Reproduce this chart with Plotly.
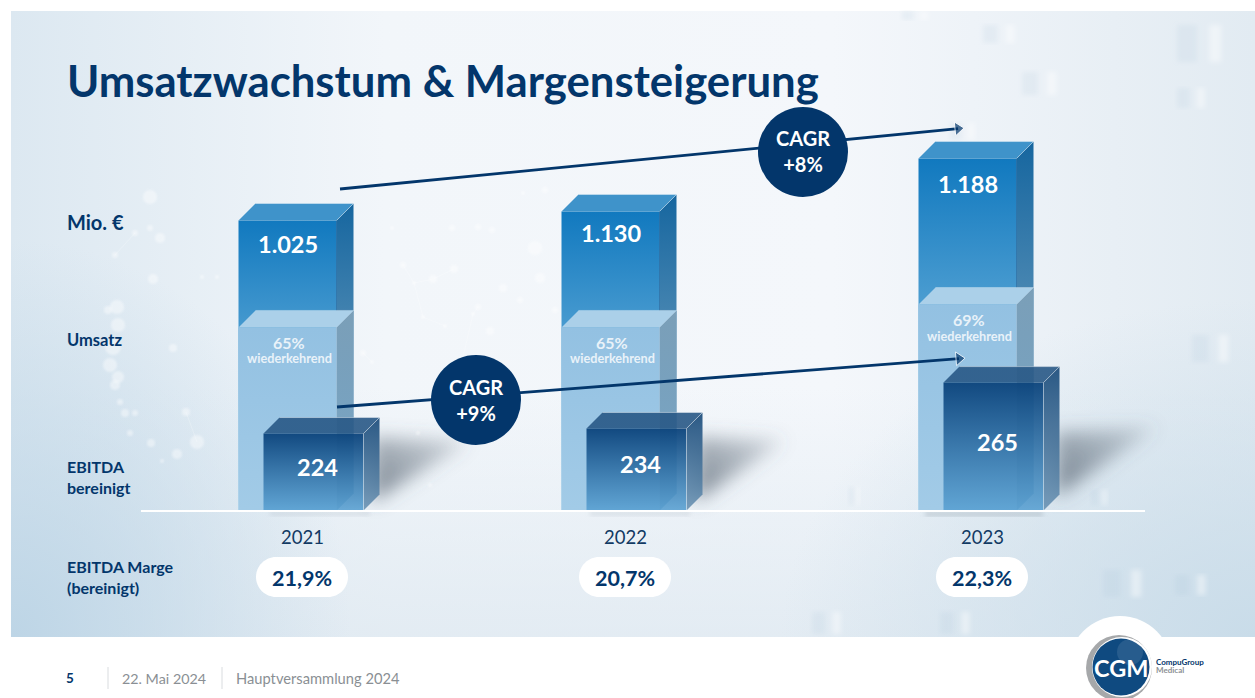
import base64
import plotly.graph_objects as go

# ---------- data ----------
years = ["2021", "2022", "2023"]
umsatz_labels = ["1.025", "1.130", "1.188"]
umsatz_drawn = [1025, 1057, 1244]
wiederkehrend_pct = ["65%", "65%", "69%"]
wiederkehrend_drawn = [647, 647, 728]
ebitda_labels = ["224", "234", "265"]
ebitda_drawn = [272, 290, 452]
marge_labels = ["21,9%", "20,7%", "22,3%"]
cagr_labels = ["CAGR<br>+8%", "CAGR<br>+9%"]

# ---------- page layout ----------
W, H = 1255, 698
BASE = 510.5
K = 1025 / 290.0                       # value units per pixel
X_POS = [302, 625, 982]
REV_OFF, EB_OFF = -14.5, 11.5
REV_W, EB_W = 98, 100
DEPTH = 17
EB_DEPTH = 16
NAVY = "#03366b"
FONT = "Lato"


def yv(px):
    return (BASE - px) * K


def xp(px):
    return px / W


def yp(px):
    return 1 - px / H


# ---------- background picture (no text in it) ----------
DOTS = [(150, 197, 7), (135, 233, 3), (150, 228, 3), (160, 238, 5), (115, 255, 3), (153, 279, 5), (202, 277, 2),
        (217, 277, 2), (117, 307, 7), (108, 310, 4), (118, 325, 7), (113, 347, 8), (110, 365, 7), (118, 377, 6),
        (115, 385, 5), (120, 402, 3), (125, 413, 4), (135, 413, 3), (130, 433, 3), (173, 348, 4), (186, 412, 4),
        (197, 442, 7), (151, 443, 4), (177, 454, 5), (162, 461, 2), (392, 228, 2), (452, 228, 3), (478, 227, 3),
        (492, 230, 3), (535, 248, 7), (403, 265, 3), (414, 283, 2), (433, 279, 4), (454, 269, 4), (503, 288, 4),
        (540, 278, 5), (423, 317, 2), (473, 314, 2), (478, 307, 3), (490, 331, 4), (363, 353, 3), (372, 362, 2),
        (445, 326, 2), (418, 433, 2), (430, 485, 2), (523, 193, 2), (545, 190, 3), (520, 300, 3), (555, 310, 3)]
LINKS = [(403, 265, 414, 283), (414, 283, 423, 317), (423, 317, 445, 326), (478, 307, 473, 314), (473, 314, 460, 370),
         (363, 353, 372, 362), (414, 283, 433, 279), (433, 279, 454, 269), (186, 412, 197, 442), (135, 233, 115, 255)]
GHOSTS = [(1177, 88, 28, 20), (1192, 335, 37, 27), (1177, 25, 45, 37), (983, 25, 32, 18), (1022, 72, 35, 23),
          (950, 123, 25, 17), (902, 11, 26, 9), (1103, 570, 39, 27), (1175, 575, 31, 20), (812, 612, 29, 22),
          (940, 612, 30, 22), (849, 487, 11, 18), (1091, 490, 16, 15)]


def deco():
    out = []
    for x0, y0, x1, y1 in LINKS:
        out.append(f'<line x1="{x0}" y1="{y0}" x2="{x1}" y2="{y1}" stroke="#fff" stroke-width="1" opacity=".22"/>')
    for x, y, r in DOTS:
        out.append(f'<circle cx="{x}" cy="{y}" r="{r}" fill="#fff" opacity=".42" filter="url(#b1)"/>')
    for x, y, w, h in GHOSTS:
        out.append(f'<g filter="url(#b2)"><rect x="{x}" y="{y}" width="{w*.45}" height="{h}" fill="#9dbcd3" opacity=".13"/>'
                   f'<rect x="{x+w*.72}" y="{y}" width="{w*.26}" height="{h}" fill="#fff" opacity=".42"/></g>')
    return "".join(out)


def shadow(a, b, c, d):
    return f'<polygon points="{a},{b} {c},{d} {a},{b+65}" fill="url(#s)"/>'


svg = f'''<svg xmlns="http://www.w3.org/2000/svg" width="{W}" height="{H}" viewBox="0 0 {W} {H}">
<defs>
<linearGradient id="g" x1="0" y1="0" x2="1" y2="0">
<stop offset="0" stop-color="#dce8f1"/><stop offset=".3" stop-color="#f2f6fa"/><stop offset=".66" stop-color="#f4f7fb"/><stop offset="1" stop-color="#e2ebf2"/>
</linearGradient>
<linearGradient id="v" x1="0" y1="0" x2="0" y2="1"><stop offset=".6" stop-color="#dfe9f1" stop-opacity="0"/><stop offset="1" stop-color="#dfe9f1" stop-opacity=".8"/></linearGradient>
<radialGradient id="l" cx="0" cy="1" r="1"><stop offset="0" stop-color="#bdd5e6"/><stop offset="1" stop-color="#bdd5e6" stop-opacity="0"/></radialGradient>
<radialGradient id="r" cx="1" cy="1" r="1"><stop offset="0" stop-color="#c9dce9"/><stop offset="1" stop-color="#c9dce9" stop-opacity="0"/></radialGradient>
<filter id="b1"><feGaussianBlur stdDeviation="1.1"/></filter>
<filter id="b2"><feGaussianBlur stdDeviation="2.8"/></filter>
<filter id="b9" x="-50%" y="-50%" width="200%" height="200%"><feGaussianBlur stdDeviation="9"/></filter>
<linearGradient id="s" x1="0" y1="1" x2="1" y2="0"><stop offset=".15" stop-color="#556270" stop-opacity=".68"/><stop offset="1" stop-color="#556270" stop-opacity=".16"/></linearGradient>
</defs>
<rect width="{W}" height="{H}" fill="#fff"/>
<rect x="11" y="11" width="{W-11}" height="626" fill="url(#g)"/>
<rect x="11" y="11" width="{W-11}" height="626" fill="url(#v)"/>
<rect x="11" y="240" width="340" height="397" fill="url(#l)"/>
<rect x="780" y="300" width="475" height="337" fill="url(#r)"/>
<g filter="url(#b9)">
{shadow(372, 437, 470, 441)}
{shadow(695, 437, 785, 440)}
{shadow(1056, 432, 1157, 427)}
</g>
<g filter="url(#b2)">
<rect x="925" y="512" width="118" height="4" fill="#8b98a5" opacity=".45"/>
<rect x="590" y="512" width="100" height="3" fill="#8b98a5" opacity=".3"/>
<rect x="270" y="512" width="100" height="3" fill="#8b98a5" opacity=".3"/>
</g>
{deco()}
</svg>'''
bg = "data:image/svg+xml;base64," + base64.b64encode(svg.encode()).decode()

fig = go.Figure()


def face(xs, ys, c0, c1):
    fig.add_trace(go.Scatter(
        x=xs, y=ys, mode="lines", fill="toself", line=dict(width=0),
        fillgradient=dict(type="vertical", colorscale=[[0, c0], [1, c1]]),
        hoverinfo="skip", showlegend=False))


def box(cx, w, v, d, front, side, top, edge, rim):
    x0, x1 = cx - w / 2, cx + w / 2
    dv = d * K
    face([x1, x1 + d, x1 + d, x1, x1], [0, dv, v + dv, v, 0], side[1], side[0])
    face([x0, x1, x1, x0, x0], [0, 0, v, v, 0], front[1], front[0])
    face([x0, x1, x1 + d, x0 + d, x0], [v, v, v + dv, v + dv, v], top, top)
    fig.add_trace(go.Scatter(x=[x1, x1], y=[0, v], mode="lines", line=dict(width=1, color=edge),
                             hoverinfo="skip", showlegend=False))
    fig.add_trace(go.Scatter(x=[x1, x1 + d, x0 + d], y=[v, v + dv, v + dv], mode="lines",
                             line=dict(width=1, color=rim), hoverinfo="skip", showlegend=False))


for i, c in enumerate(X_POS):
    box(c + REV_OFF, REV_W, umsatz_drawn[i], DEPTH,
        ("#1179bf", "#9fd0ea"), ("#16669f", "#8fb4cc"), "#3f93ca", "rgba(16,90,150,.6)", "rgba(255,255,255,.35)")
for i, c in enumerate(X_POS):
    box(c + REV_OFF, REV_W, wiederkehrend_drawn[i], DEPTH,
        ("#93c1e2", "#a2cbe7"), ("#7b9fb8", "rgba(123,168,200,.75)"), "#abd0e9", "rgba(255,255,255,.25)",
        "rgba(255,255,255,.25)")
for i, c in enumerate(X_POS):
    box(c + EB_OFF, EB_W, ebitda_drawn[i], EB_DEPTH,
        ("rgba(12,68,124,.96)", "rgba(88,160,210,.88)"), ("rgba(32,80,126,.95)", "rgba(100,142,176,.85)"),
        "rgba(40,88,134,.9)", "rgba(255,255,255,.4)", "rgba(255,255,255,.4)")

# trend arrows, drawn on the same axes
for (x0, y0, x1, y1) in [(340, 189, 964, 128), (337, 407, 965, 358)]:
    fig.add_trace(go.Scatter(
        x=[x0, x1 - 6], y=[yv(y0), yv(y1 + 0.6)], mode="lines+markers",
        line=dict(color=NAVY, width=2.8),
        marker=dict(symbol=["circle", "triangle-up"], size=[0.1, 12], color=NAVY, angleref="previous"),
        hoverinfo="skip", showlegend=False))

ann = []


def text(x, y, t, size, color=NAVY, bold=True, anchor="center"):
    if anchor == "left":
        x -= 2
    ann.append(dict(xref="paper", yref="paper", x=xp(x), y=yp(y), text=f"<b>{t}</b>" if bold else t, showarrow=False,
                    xanchor=anchor, yanchor="middle", align="left" if anchor == "left" else "center",
                    font=dict(family=FONT, size=size, color=color)))


shapes = []


def circle(cx, cy, r, color):
    shapes.append(dict(type="circle", xref="paper", yref="paper", x0=xp(cx - r), x1=xp(cx + r), y0=yp(cy + r),
                       y1=yp(cy - r), fillcolor=color, line=dict(width=0), layer="above"))


# baseline
shapes.append(dict(type="line", xref="paper", yref="paper", x0=xp(141), x1=xp(1145), y0=yp(511), y1=yp(511),
                   line=dict(color="#ffffff", width=2), layer="above"))
# CAGR circles
circle(803, 152, 45, NAVY)
circle(476, 400, 45, NAVY)
text(803, 151, cagr_labels[0], 20, "#ffffff")
text(476, 400, cagr_labels[1], 20, "#ffffff")

# margin pills and labels
for i, c in enumerate(X_POS):
    hw, hh = 46, 20
    x0, x1, y0, y1 = c - hw, c + hw, 557, 597
    path = (f"M {xp(x0+hh)} {yp(y0)} L {xp(x1-hh)} {yp(y0)} "
            f"C {xp(x1-hh*.45)} {yp(y0)} {xp(x1)} {yp(y0+hh*.45)} {xp(x1)} {yp(y0+hh)} "
            f"C {xp(x1)} {yp(y1-hh*.45)} {xp(x1-hh*.45)} {yp(y1)} {xp(x1-hh)} {yp(y1)} "
            f"L {xp(x0+hh)} {yp(y1)} "
            f"C {xp(x0+hh*.45)} {yp(y1)} {xp(x0)} {yp(y1-hh*.45)} {xp(x0)} {yp(y1-hh)} "
            f"C {xp(x0)} {yp(y0+hh*.45)} {xp(x0+hh*.45)} {yp(y0)} {xp(x0+hh)} {yp(y0)} Z")
    shapes.append(dict(type="path", xref="paper", yref="paper", path=path, fillcolor="#ffffff", line=dict(width=0),
                       layer="above"))
    text(c, 578, marge_labels[i], 21.5)

# value labels placed from the drawn values
rev_dy = [23, 22, 25]
for i, c in enumerate(X_POS):
    top = BASE - umsatz_drawn[i] / K
    text(c + REV_OFF, top + rev_dy[i], umsatz_labels[i], 23.5, "#ffffff")
    rtop = BASE - wiederkehrend_drawn[i] / K
    text(c + REV_OFF + 1, rtop + 15, wiederkehrend_pct[i], 16, "#e9f2f9")
    text(c + REV_OFF + 2, rtop + 31, "wiederkehrend", 12.7, "#e9f2f9")
    etop = BASE - ebitda_drawn[i] / K
    text(c + EB_OFF + 3.5, (etop + BASE) / 2 - 5, ebitda_labels[i], 23.5, "#ffffff")

text(67, 80, "Umsatzwachstum &amp; Margensteigerung", 43.7, anchor="left")
text(67, 222, "Mio. €", 20, anchor="left")
text(67, 340, "Umsatz", 16.5, anchor="left")
text(67, 477, "EBITDA<br>bereinigt", 16, anchor="left")
text(67, 577, "EBITDA Marge<br>(bereinigt)", 16, anchor="left")

# footer
text(70, 678, "5", 13.5, anchor="center")
text(122, 678, "22. Mai 2024", 14.3, "#8a8f94", False, "left")
text(236, 678, "Hauptversammlung 2024", 14.7, "#8a8f94", False, "left")
for x in (108, 222):
    shapes.append(dict(type="line", xref="paper", yref="paper", x0=xp(x), x1=xp(x), y0=yp(667), y1=yp(689),
                       line=dict(color="#d9dcdf", width=1), layer="above"))

# logo
circle(1120, 668, 52, "#ffffff")
shapes.append(dict(type="rect", xref="paper", yref="paper", x0=xp(1060), x1=xp(1180), y0=0, y1=yp(637),
                   fillcolor="#ffffff", line=dict(width=0), layer="above"))
circle(1119, 668, 33, "#a6a8aa")
circle(1122, 667, 30, "#ffffff")
circle(1121, 667, 28.5, "#0f4a80")
circle(1130, 652, 13, "rgba(255,255,255,.10)")
text(1121, 668, "CGM", 23.5, "#ffffff")
text(1156, 662, "CompuGroup", 8, NAVY, True, "left")
text(1156, 670, "Medical", 8, "#8c9094", True, "left")

fig.update_layout(
    width=W, height=H, margin=dict(l=0, r=0, t=0, b=0), paper_bgcolor="#ffffff", plot_bgcolor="rgba(0,0,0,0)",
    showlegend=False,
    xaxis=dict(range=[0, W], showgrid=False, zeroline=False, showline=False, fixedrange=True, showticklabels=False,
               tickmode="array", tickvals=X_POS, ticktext=years),
    yaxis=dict(range=[yv(H), yv(0)], visible=False, fixedrange=True),
    images=[dict(source=bg, xref="paper", yref="paper", x=0, y=1, sizex=1, sizey=1, sizing="stretch", layer="below")],
    annotations=ann, shapes=shapes,
)
for i, c in enumerate(X_POS):
    fig.add_annotation(x=c, y=yv(537), xref="x", yref="y", text=years[i], showarrow=False,
                       font=dict(family=FONT, size=18.5, color="#123a63"))

fig.write_html("out.html", config={"displayModeBar": False},
               post_script="document.body.style.margin='0';document.body.style.overflow='hidden';")
